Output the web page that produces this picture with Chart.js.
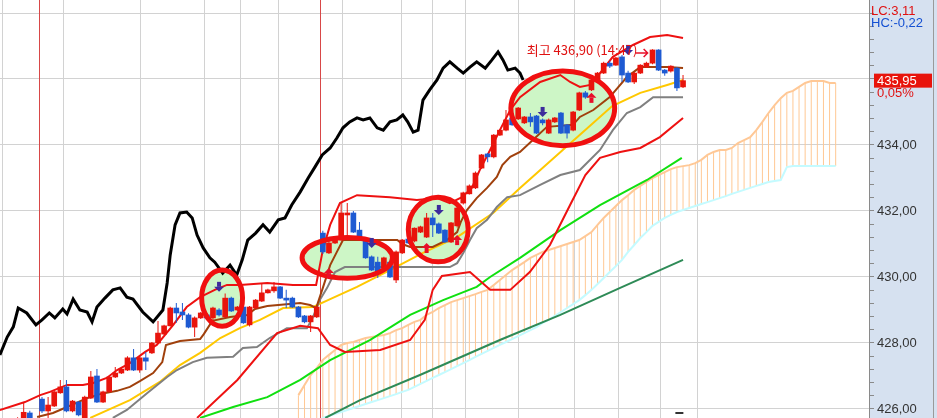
<!DOCTYPE html>
<html>
<head>
<meta charset="utf-8">
<script src="https://cdn.jsdelivr.net/npm/chart.js@4.4.0/dist/chart.umd.min.js"></script>
<style>
  html, body { margin: 0; padding: 0; background: #fff; }
  #wrap { width: 937px; height: 418px; }
</style>
</head>
<body>
<div id="wrap"><canvas id="myChart" width="937" height="418"></canvas></div>
<script>
// candles, one per bar index 0..112
const candleOpen = [425.50,425.60,425.45,425.60,425.55,425.88,425.60,426.30,425.94,426.09,426.49,426.67,425.94,426.21,425.73,426.33,427.00,426.21,426.52,426.97,427.09,427.18,427.55,427.18,427.55,427.70,428.00,428.27,428.52,429.06,428.94,428.85,428.48,428.76,428.85,428.76,429.00,428.79,429.36,429.00,429.09,428.55,429.06,429.27,429.52,429.58,429.70,429.36,429.36,429.09,428.82,428.64,428.79,431.33,430.73,431.03,431.12,431.88,431.94,431.42,431.12,430.61,430.45,430.27,430.45,429.91,430.73,431.15,431.09,431.36,431.21,431.79,431.61,431.42,431.06,431.55,432.24,432.52,432.70,433.30,433.73,433.64,434.30,434.45,434.82,434.79,434.67,434.85,434.88,434.76,434.36,434.70,434.97,434.61,434.45,435.06,435.58,435.67,435.97,436.18,436.48,436.42,436.67,436.18,435.91,436.18,436.36,436.48,436.88,436.27,436.24,436.33,435.76];
const candleHigh = [425.65,425.70,425.70,425.75,426.21,425.95,425.72,426.36,426.36,426.55,426.88,426.88,426.27,426.24,426.40,427.15,427.21,426.55,427.00,427.27,427.24,427.60,427.82,427.58,427.73,428.03,428.67,428.55,429.10,429.21,429.21,428.90,428.80,428.94,428.90,429.10,429.05,429.50,429.40,429.12,429.12,429.12,429.33,429.82,429.64,429.85,429.73,429.61,429.40,429.12,428.85,428.85,429.12,431.40,431.10,431.20,432.24,432.24,432.00,431.67,431.20,430.65,430.61,430.61,430.50,430.80,431.15,431.20,431.50,431.55,431.94,431.94,431.65,431.45,431.67,432.12,432.58,432.80,433.20,433.73,433.76,434.33,434.48,435.06,434.85,435.15,434.88,434.97,434.91,434.80,434.80,434.85,435.00,434.64,435.03,435.61,435.64,436.00,436.21,436.52,436.55,436.67,436.73,436.25,436.21,436.45,436.52,436.90,436.90,436.30,436.42,436.36,436.12];
const candleLow = [425.40,425.40,425.40,425.50,425.50,425.50,425.55,425.88,425.73,426.06,426.46,425.90,425.90,425.78,425.70,426.30,426.18,426.18,426.50,426.94,427.06,427.15,427.15,427.10,427.18,427.67,427.97,428.24,428.50,428.61,428.70,428.45,428.18,428.73,428.70,428.70,428.80,428.76,428.94,428.97,428.58,428.50,429.03,429.24,429.50,429.52,429.33,429.06,429.06,428.76,428.60,428.33,428.76,430.70,430.70,431.00,431.10,431.21,431.33,431.18,430.55,430.18,429.97,430.24,429.97,429.82,430.70,431.00,431.05,431.33,431.18,431.21,431.30,431.03,431.03,431.50,432.20,432.50,432.67,433.27,433.48,433.60,434.27,434.42,434.58,434.76,434.64,434.55,434.33,434.60,434.33,434.67,434.33,434.20,434.42,435.03,435.40,435.64,435.94,436.15,436.33,436.40,435.91,435.88,435.85,436.15,436.33,436.45,436.24,436.10,436.20,435.64,435.73];
const candleClose = [425.60,425.45,425.65,425.70,425.90,425.60,425.70,425.94,426.12,426.52,426.67,425.94,426.24,425.82,426.36,426.97,426.21,426.52,426.97,427.09,427.21,427.55,427.18,427.55,427.45,428.00,428.30,428.52,429.06,428.91,428.85,428.48,428.76,428.91,428.76,429.06,428.85,429.36,428.97,429.09,428.61,429.09,429.30,429.52,429.61,429.70,429.36,429.30,429.09,428.79,428.64,428.82,429.09,430.76,431.03,431.12,431.94,431.94,431.36,431.21,430.58,430.21,430.15,430.58,430.00,430.76,431.12,431.03,431.48,431.52,431.79,431.58,431.33,431.06,431.64,432.09,432.55,432.76,433.15,433.70,433.64,434.30,434.45,434.76,434.61,435.12,434.85,434.70,434.36,434.67,434.76,434.82,434.36,434.36,435.00,435.58,435.45,435.97,436.18,436.48,436.39,436.64,436.12,435.91,436.18,436.42,436.48,436.88,436.27,436.18,436.39,435.73,435.95];

// overlay lines as [bar index, value]
const blackLine = [[0.1,427.64],[1.3,428.18],[2.3,428.49],[3.1,429.06],[4.5,428.91],[6.0,428.55],[7.0,428.70],[8.2,428.91],[9.1,428.76],[10.4,429.03],[11.1,428.88],[12.1,429.33],[13.2,429.00],[14.4,428.94],[15.2,428.64],[16.0,429.09],[17.3,429.36],[18.6,429.61],[19.8,429.67],[20.9,429.39],[21.9,429.33],[23.5,428.94],[25.2,428.64],[26.8,429.00],[27.5,429.82],[28.0,430.67],[28.8,431.58],[29.6,431.94],[30.7,431.97],[31.6,431.79],[32.4,431.27],[33.4,430.88],[34.5,430.58],[35.3,430.45],[36.6,430.12],[37.8,430.36],[38.9,430.06],[39.8,430.52],[40.7,431.12],[42.0,431.33],[43.2,431.58],[44.3,431.36],[45.7,431.73],[46.8,431.79],[47.9,432.18],[49.3,432.58],[50.6,433.00],[51.7,433.33],[52.9,433.70],[54.2,433.91],[55.3,434.21],[56.3,434.52],[57.4,434.70],[58.6,434.82],[59.6,434.76],[60.7,434.82],[61.9,434.52],[62.9,434.45],[64.0,434.70],[65.1,434.76],[66.1,434.91],[66.9,434.70],[67.8,434.39],[68.6,434.45],[69.4,435.36],[70.5,435.67],[71.7,435.97],[72.7,436.33],[73.8,436.52],[75.0,436.33],[76.0,436.18],[77.1,436.36],[78.2,436.52],[79.6,436.33],[80.7,436.58],[81.7,436.82],[82.5,436.58],[83.3,436.27],[84.5,436.33],[85.3,436.18],[85.8,435.97]];
const bandUpper = [[0.1,425.97],[4.2,426.21],[6.7,426.42],[8.3,426.52],[11.1,426.73],[13.7,426.73],[15.4,426.79],[17.6,426.94],[19.3,427.18],[21.4,427.39],[23.9,427.73],[25.8,427.94],[28.5,428.55],[30.7,429.09],[32.9,429.39],[35.3,429.61],[37.3,429.76],[39.4,429.76],[43.9,429.82],[48.1,429.76],[51.9,429.76],[53.0,430.82],[54.2,431.58],[55.8,432.24],[58.6,432.48],[64.0,432.42],[68.4,432.33],[71.7,432.39],[73.8,432.24],[75.8,432.42],[77.4,432.70],[78.7,433.24],[80.4,433.85],[82.0,434.45],[83.7,435.06],[85.3,435.45],[88.6,435.91],[91.9,436.12],[93.5,435.91],[95.1,435.76],[96.8,435.82],[98.4,436.18],[100.5,436.67],[103.8,437.03],[106.6,437.27],[109.4,437.33],[112.0,437.24]];
const bandLower = [[32.4,425.73],[39.0,426.88],[45.5,428.30],[49.3,428.52],[52.2,428.45],[54.2,427.94],[56.6,427.73],[62.4,427.79],[67.3,428.09],[69.7,428.70],[71.0,429.61],[72.5,430.03],[77.1,430.15],[80.4,429.61],[83.7,429.61],[86.9,430.15],[90.2,430.97],[93.5,432.18],[96.0,433.09],[98.4,433.61],[101.7,433.79],[105.0,433.91],[108.2,434.24],[112.0,434.82]];
const brownLine = [[6.2,425.76],[8.8,425.88],[11.1,426.06],[14.4,426.33],[16.5,426.45],[19.3,426.55],[21.4,426.67],[23.1,426.85],[25.2,427.09],[26.7,427.42],[27.3,427.94],[29.6,428.06],[32.9,428.12],[33.5,428.27],[34.9,428.67],[37.8,428.79],[40.6,428.85],[41.9,429.03],[43.9,429.12],[49.3,429.21],[50.9,429.15],[51.9,429.06],[53.0,429.67],[54.2,430.36],[55.3,430.76],[56.3,431.12],[58.6,431.12],[65.2,431.12],[66.0,431.00],[67.3,430.91],[71.0,430.91],[73.3,431.12],[75.0,431.36],[75.6,431.67],[76.6,432.03],[78.2,432.39],[79.9,432.70],[81.5,433.03],[82.4,433.39],[83.7,433.64],[85.3,433.79],[87.4,434.15],[89.7,434.55],[94.0,434.61],[95.1,434.85],[97.3,435.06],[100.0,435.45],[102.8,436.06],[105.0,436.36],[109.4,436.36],[112.0,436.33]];
const yellowLine = [[14.9,425.73],[21.4,426.27],[26.3,426.82],[29.6,427.33],[32.9,427.70],[36.2,428.15],[39.4,428.45],[42.7,428.70],[46.5,429.06],[51.4,429.09],[54.2,429.33],[58.6,429.70],[64.0,430.21],[69.4,430.73],[75.0,431.21],[80.9,431.94],[85.3,432.70],[92.3,433.85],[100.4,435.18],[105.0,435.58],[109.4,435.82],[112.0,435.97]];
const grayLine = [[18.6,425.73],[20.9,425.97],[24.2,426.48],[27.5,426.97],[29.1,427.18],[31.7,427.42],[34.0,427.55],[38.3,427.58],[39.9,427.85],[42.2,427.88],[44.3,428.15],[47.1,428.45],[50.4,428.45],[51.4,428.79],[52.5,429.30],[53.7,429.67],[55.0,430.15],[56.6,430.30],[73.8,430.30],[75.0,430.42],[76.0,430.73],[77.1,431.12],[78.2,431.48],[79.9,431.73],[81.5,432.12],[83.2,432.42],[85.3,432.48],[88.6,432.79],[91.9,433.09],[95.1,433.24],[98.4,433.85],[100.5,434.45],[102.8,434.97],[105.0,435.15],[107.1,435.45],[112.0,435.45]];
const greenLine = [[32.9,425.73],[38.3,426.06],[43.9,426.36],[49.3,426.88],[54.2,427.48],[60.7,428.09],[67.3,428.85],[72.7,429.30],[78.2,429.70],[80.4,430.00],[85.3,430.58],[91.9,431.42],[98.4,432.18],[106.1,432.94],[111.8,433.61]];
const darkGreenLine = [[53.4,425.73],[59.1,426.27],[68.9,427.03],[82.0,428.09],[91.9,428.85],[101.7,429.67],[112.0,430.52]];

// leading spans, one value per bar index from spanStart
const spanStart = 49;
const spanA = [426.42,426.73,427.03,427.24,427.49,427.64,427.79,427.94,428.00,428.03,428.09,428.15,428.18,428.21,428.24,428.30,428.39,428.45,428.55,428.64,428.70,428.85,428.94,429.06,429.15,429.24,429.30,429.36,429.42,429.48,429.55,429.61,429.76,429.91,430.06,430.21,430.33,430.45,430.58,430.67,430.76,430.82,430.88,430.94,431.00,431.06,431.12,431.24,431.36,431.58,431.79,431.97,432.15,432.33,432.48,432.64,432.76,432.88,433.00,433.09,433.18,433.27,433.33,433.36,433.39,433.45,433.55,433.70,433.79,433.85,433.85,433.91,434.06,434.15,434.24,434.45,434.70,434.97,435.21,435.42,435.58,435.64,435.76,435.88,435.94,435.94,435.94,435.88,435.88];
const spanB = [425.36,425.36,425.36,425.36,425.73,425.79,425.85,425.91,425.97,426.03,426.09,426.15,426.21,426.27,426.33,426.39,426.45,426.52,426.58,426.67,426.76,426.85,426.94,427.03,427.12,427.21,427.30,427.39,427.48,427.58,427.67,427.76,427.85,427.94,428.03,428.12,428.21,428.30,428.39,428.48,428.61,428.70,428.82,428.94,429.06,429.18,429.30,429.45,429.61,429.79,429.97,430.15,430.33,430.52,430.76,430.97,431.18,431.36,431.55,431.67,431.79,431.88,431.97,432.03,432.09,432.15,432.21,432.27,432.33,432.39,432.45,432.52,432.58,432.64,432.70,432.76,432.82,432.88,432.91,432.94,433.33,433.36,433.36,433.36,433.36,433.36,433.36,433.36,433.36];

// axis
const priceMajor = [426, 428, 430, 432, 434, 436];
const gridIdx = [5.5, 15.5, 30.7, 36.5, 42.5, 49.1, 63.5, 68.4, 73.5, 79.2, 91.0, 97.6, 105.3, 111.3];
const dayBreaks = [6.5, 52.6];
const lastPrice = 435.95;

const upColor = '#e8140c';
const downColor = '#1e5ad2';

const idx = candleOpen.map((_, i) => i);
const candleColors = idx.map(i => candleClose[i] >= candleOpen[i] ? upColor : downColor);
const toXY = arr => arr.map(p => ({x: p[0], y: p[1]}));

function lineSet(arr, color, width, order) {
    return {
        type: 'line', data: toXY(arr), borderColor: color, borderWidth: width,
        pointRadius: 0, tension: 0, fill: false, order: order
    };
}

// annotations drawn over the plot
const circles = [
    {i: 36.5, v: 429.36, ri: 3.35, rv: 0.85},
    {i: 57.0, v: 430.58, ri: 7.4, rv: 0.62},
    {i: 71.9, v: 431.44, ri: 4.9, rv: 0.98},
    {i: 92.3, v: 435.11, ri: 8.5, rv: 1.13}
];
const downMarks = [[36, 429.55], [61, 430.88], [72, 431.88], [89, 434.85], [103, 436.73]];
const upMarks = [[54, 430.27], [70, 431.03], [75, 431.27], [97, 435.58]];

const overlay = {
    id: 'overlay',
    beforeDraw(chart) {
        const {ctx, chartArea: a} = chart;
        ctx.save();
        ctx.fillStyle = '#d6e1f0';
        ctx.fillRect(a.right, 0, chart.width - a.right, chart.height);
        ctx.fillStyle = '#fff';
        ctx.fillRect(a.left, a.top, a.right - a.left, a.bottom - a.top);
        ctx.strokeStyle = '#9a9a9a';
        ctx.lineWidth = 1;
        ctx.beginPath();
        ctx.moveTo(933.5, 0); ctx.lineTo(933.5, chart.height);
        ctx.stroke();
        ctx.restore();
    },
    beforeDatasetsDraw(chart) {
        const {ctx, chartArea: a, scales: {x, y}} = chart;
        ctx.save();
        ctx.strokeStyle = '#d84848';
        ctx.lineWidth = 1;
        dayBreaks.forEach(d => {
            const px = Math.round(x.getPixelForValue(d)) + 0.5;
            ctx.beginPath(); ctx.moveTo(px, a.top); ctx.lineTo(px, a.bottom); ctx.stroke();
        });
        ctx.fillStyle = '#cdf6c6';
        circles.forEach(c => {
            const cx = x.getPixelForValue(c.i), cy = y.getPixelForValue(c.v);
            const rx = x.getPixelForValue(c.i + c.ri) - cx, ry = cy - y.getPixelForValue(c.v + c.rv);
            ctx.beginPath(); ctx.ellipse(cx, cy, rx, ry, 0, 0, Math.PI * 2); ctx.fill();
        });
        ctx.restore();
    },
    afterDatasetsDraw(chart) {
        const {ctx, scales: {x, y}} = chart;
        ctx.save();
        ctx.strokeStyle = '#f01010';
        ctx.lineWidth = 5;
        circles.forEach(c => {
            const cx = x.getPixelForValue(c.i), cy = y.getPixelForValue(c.v);
            const rx = x.getPixelForValue(c.i + c.ri) - cx, ry = cy - y.getPixelForValue(c.v + c.rv);
            ctx.beginPath(); ctx.ellipse(cx, cy, rx, ry, 0, 0, Math.PI * 2); ctx.stroke();
        });
        // signal arrows
        ctx.fillStyle = '#3c2c9c';
        downMarks.forEach(m => {
            const px = x.getPixelForValue(m[0]), py = y.getPixelForValue(m[1]);
            ctx.fillRect(px - 2, py - 10, 4, 5);
            ctx.beginPath(); ctx.moveTo(px - 5, py - 5); ctx.lineTo(px + 5, py - 5); ctx.lineTo(px, py); ctx.fill();
        });
        ctx.fillStyle = '#e8102a';
        upMarks.forEach(m => {
            const px = x.getPixelForValue(m[0]), py = y.getPixelForValue(m[1]);
            ctx.beginPath(); ctx.moveTo(px - 5, py + 5); ctx.lineTo(px + 5, py + 5); ctx.lineTo(px, py); ctx.fill();
            ctx.fillRect(px - 2, py + 5, 4, 5);
        });
        // right arrow to the session high
        const ax = x.getPixelForValue(104.2), bx = x.getPixelForValue(106.2), ay = y.getPixelForValue(436.79);
        ctx.strokeStyle = '#e8102a'; ctx.lineWidth = 1.5;
        ctx.beginPath(); ctx.moveTo(ax, ay); ctx.lineTo(bx, ay);
        ctx.moveTo(bx - 4, ay - 4); ctx.lineTo(bx, ay); ctx.lineTo(bx - 4, ay + 4); ctx.stroke();
        ctx.font = '13px "Noto Sans CJK KR", "Liberation Sans", sans-serif';
        ctx.fillStyle = '#e01010';
        ctx.textBaseline = 'alphabetic';
        ctx.fillText('최고 436,90 (14:47)', x.getPixelForValue(86.4), y.getPixelForValue(436.72));
        // scroll marker under the last bar
        ctx.fillStyle = '#333';
        ctx.fillRect(x.getPixelForValue(111.4) - 4, 412, 8, 2);
        ctx.restore();
    },
    afterDraw(chart) {
        const {ctx, scales: {y}} = chart;
        ctx.save();
        ctx.font = '13px "Liberation Sans Narrow", "Liberation Sans", sans-serif';
        ctx.textBaseline = 'middle';
        ctx.fillStyle = '#e01010';
        ctx.fillText('LC:3,11', 871, 11);
        ctx.fillStyle = '#1450d2';
        ctx.fillText('HC:-0,22', 871, 23);
        const py = y.getPixelForValue(lastPrice);
        ctx.fillStyle = '#e8140c';
        ctx.fillRect(874, py - 7, 58, 14);
        ctx.fillStyle = '#fff';
        ctx.fillText('435,95', 877, py + 0.5);
        ctx.fillStyle = '#e01010';
        ctx.fillText('0,05%', 877, py + 13);
        ctx.restore();
    }
};

const isMajor = v => Math.abs(v / 2 - Math.round(v / 2)) < 1e-6;

new Chart(document.getElementById('myChart').getContext('2d'), {
    type: 'line',
    data: {
        datasets: [
            {
                type: 'bar', label: 'cloud', grouped: false, barThickness: 1, inflateAmount: 0, order: 20,
                data: spanA.map((a, k) => ({x: spanStart + k, y: [spanB[k], a]})),
                backgroundColor: '#ffc894'
            },
            lineSet(spanA.map((a, k) => [spanStart + k, a]), '#ffc896', 2, 19),
            lineSet(spanB.map((b, k) => [spanStart + k, b]), '#c4fbff', 2, 19),
            lineSet(darkGreenLine, '#2e8b57', 2, 15),
            lineSet(greenLine, '#10e010', 2, 15),
            lineSet(grayLine, '#808080', 2, 14),
            lineSet(yellowLine, '#ffc800', 2, 14),
            lineSet(bandLower, '#ee1111', 2, 13),
            lineSet(bandUpper, '#ee1111', 2, 13),
            lineSet(brownLine, '#a0400c', 2, 12),
            lineSet(blackLine, '#000000', 3, 11),
            {
                type: 'bar', label: 'wick', grouped: false, barThickness: 1, inflateAmount: 0, order: 2,
                data: idx.map(i => ({x: i, y: [candleLow[i], candleHigh[i]]})),
                backgroundColor: candleColors
            },
            {
                type: 'bar', label: 'body', grouped: false, barThickness: 5, minBarLength: 1, order: 1,
                data: idx.map(i => ({x: i, y: [candleOpen[i], candleClose[i]]})),
                backgroundColor: candleColors
            }
        ]
    },
    options: {
        responsive: false,
        devicePixelRatio: 1,
        animation: false,
        layout: { padding: 0 },
        plugins: { legend: { display: false }, tooltip: { enabled: false } },
        scales: {
            x: {
                type: 'linear', min: 0.12, max: 142.46, offset: false,
                border: { display: false },
                ticks: { display: false },
                grid: { color: '#d2d2d2', drawTicks: false },
                afterBuildTicks: axis => { axis.ticks = gridIdx.map(v => ({value: v})); },
                afterFit: s => { s.height = 0; s.paddingLeft = 0; s.paddingRight = 0; }
            },
            y: {
                position: 'right', min: 425.727, max: 438.394,
                border: { display: true, color: '#8a8a8a' },
                grid: {
                    color: c => isMajor(c.tick.value) ? '#d2d2d2' : 'rgba(0,0,0,0)',
                    tickColor: '#8a8a8a', tickLength: 5
                },
                ticks: {
                    padding: 3, color: '#333', autoSkip: false,
                    font: { family: '"Liberation Sans Narrow", "Liberation Sans", sans-serif', size: 13 },
                    callback: v => priceMajor.some(m => Math.abs(m - v) < 1e-6) ? v.toFixed(2).replace('.', ',') : ''
                },
                afterBuildTicks: axis => {
                    const t = [];
                    for (let k = 0; k <= 30; k++) t.push({value: Math.round((426 + k * 0.4) * 10) / 10});
                    axis.ticks = t;
                },
                afterFit: s => { s.width = 68; s.paddingTop = 0; s.paddingBottom = 0; }
            }
        }
    },
    plugins: [overlay]
});
</script>
</body>
</html>
